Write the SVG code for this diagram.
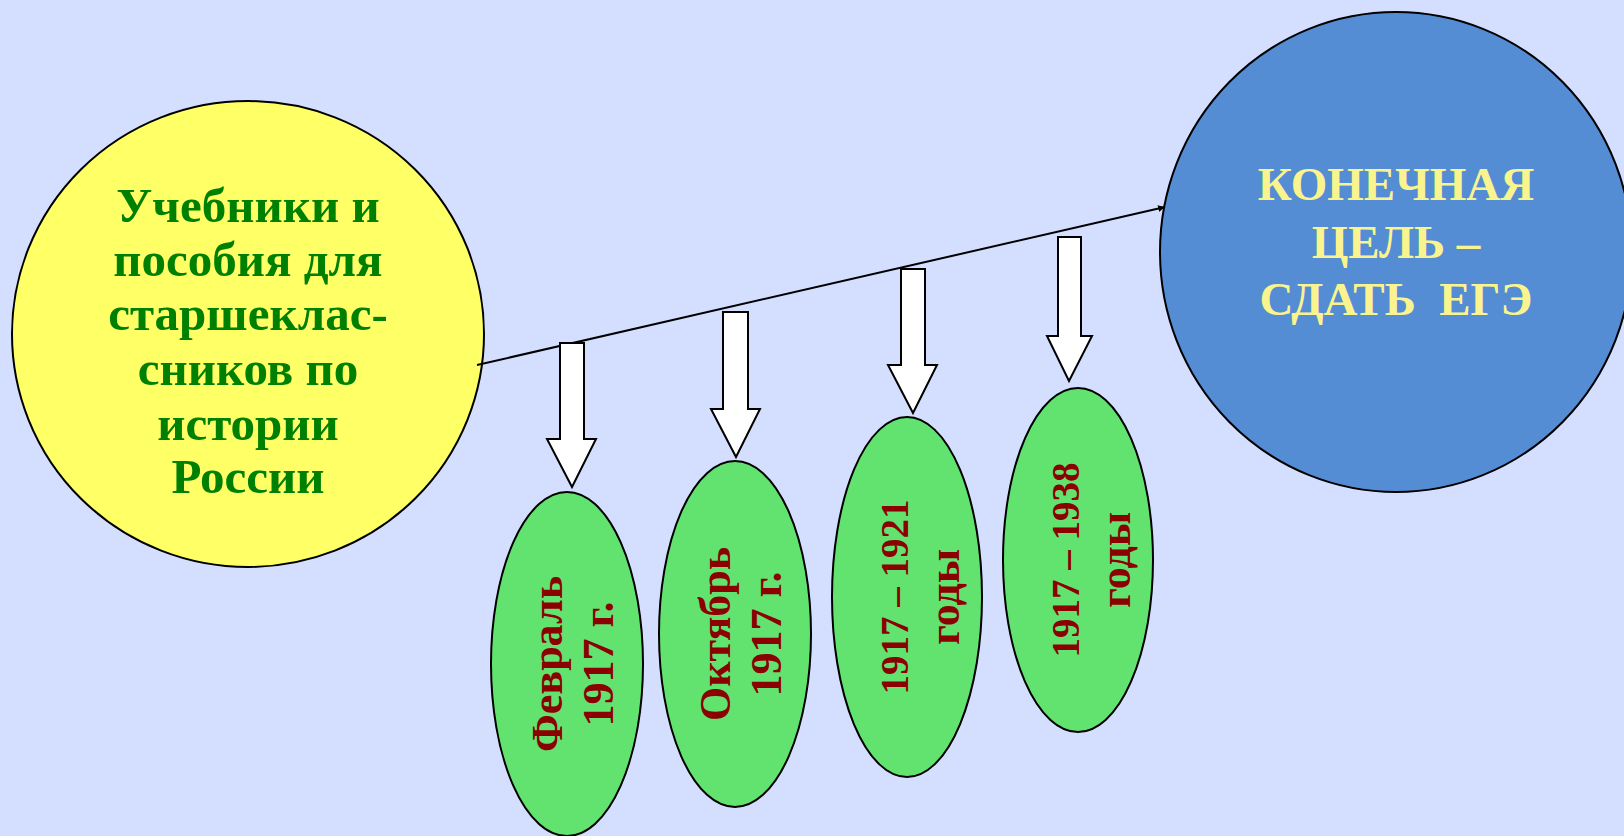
<svg xmlns="http://www.w3.org/2000/svg" width="1624" height="836" viewBox="0 0 1624 836">
<defs>
<marker id="tip" viewBox="0 0 10 10" refX="10" refY="5" markerWidth="7" markerHeight="7" markerUnits="userSpaceOnUse" orient="auto">
<path d="M0,0 L10,5 L0,10 z" fill="#000"/>
</marker>
<style>
.node{stroke:#000;stroke-width:2}
.t{font-family:"Liberation Serif","DejaVu Serif",serif;font-weight:bold;text-anchor:middle}
.green{fill:#008000;font-size:49px}
.goal{fill:#FAF48F;font-size:47px;white-space:pre}
.date{fill:#8B0000;font-size:44px}
.yrs{font-size:39px}
.blk{fill:#fff;stroke:#000;stroke-width:2;stroke-linejoin:miter}
.ell{fill:#62E26E;stroke:#000;stroke-width:2}
</style>
</defs>
<rect width="1624" height="836" fill="#D4DEFE"/>
<g id="node-textbooks">
<ellipse class="node" cx="248" cy="334" rx="236" ry="233" fill="#FFFF66"/>
<text class="t green"><tspan x="248" y="222">Учебники и</tspan><tspan x="248" y="276">пособия для</tspan><tspan x="248" y="330">старшеклас-</tspan><tspan x="248" y="385">сников по</tspan><tspan x="248" y="440">истории</tspan><tspan x="248" y="493">России</tspan></text>
</g>
<g id="node-goal">
<ellipse class="node" cx="1396" cy="252" rx="236" ry="240" fill="#548DD4"/>
<text class="t goal" xml:space="preserve"><tspan x="1396" y="200">КОНЕЧНАЯ</tspan><tspan x="1396" y="258">ЦЕЛЬ –</tspan><tspan x="1396" y="315">СДАТЬ  ЕГЭ</tspan></text>
</g>
<g id="connectors">
<line x1="477" y1="365" x2="1165" y2="207" stroke="#000" stroke-width="2" marker-end="url(#tip)"/>
<path class="blk" d="M560,343 H584 V439 H596 L572,487 L547,439 H560 Z"/>
<path class="blk" d="M723,312 H748 V409 H760 L736,457 L711,409 H723 Z"/>
<path class="blk" d="M901,269 H925 V365 H937 L913,413 L888,365 H901 Z"/>
<path class="blk" d="M1058,237 H1081 V336 H1092 L1069,381 L1047,336 H1058 Z"/>
</g>
<g id="node-feb">
<ellipse class="ell" cx="567" cy="664" rx="76" ry="172"/>
<text class="t date" transform="translate(567,664) rotate(-90)"><tspan x="0" y="-5">Февраль</tspan><tspan x="0" y="46">1917 г.</tspan></text>
</g>
<g id="node-oct">
<ellipse class="ell" cx="735" cy="634" rx="76" ry="173"/>
<text class="t date" transform="translate(735,634) rotate(-90)"><tspan x="0" y="-5">Октябрь</tspan><tspan x="0" y="46">1917 г.</tspan></text>
</g>
<g id="node-1921">
<ellipse class="ell" cx="907" cy="597" rx="75" ry="180"/>
<text class="t date" transform="translate(907,597) rotate(-90)"><tspan class="yrs" x="0" y="1">1917 – 1921</tspan><tspan x="0" y="52">годы</tspan></text>
</g>
<g id="node-1938">
<ellipse class="ell" cx="1078" cy="560" rx="75" ry="172"/>
<text class="t date" transform="translate(1078,560) rotate(-90)"><tspan class="yrs" x="0" y="1">1917 – 1938</tspan><tspan x="0" y="52">годы</tspan></text>
</g>
</svg>
